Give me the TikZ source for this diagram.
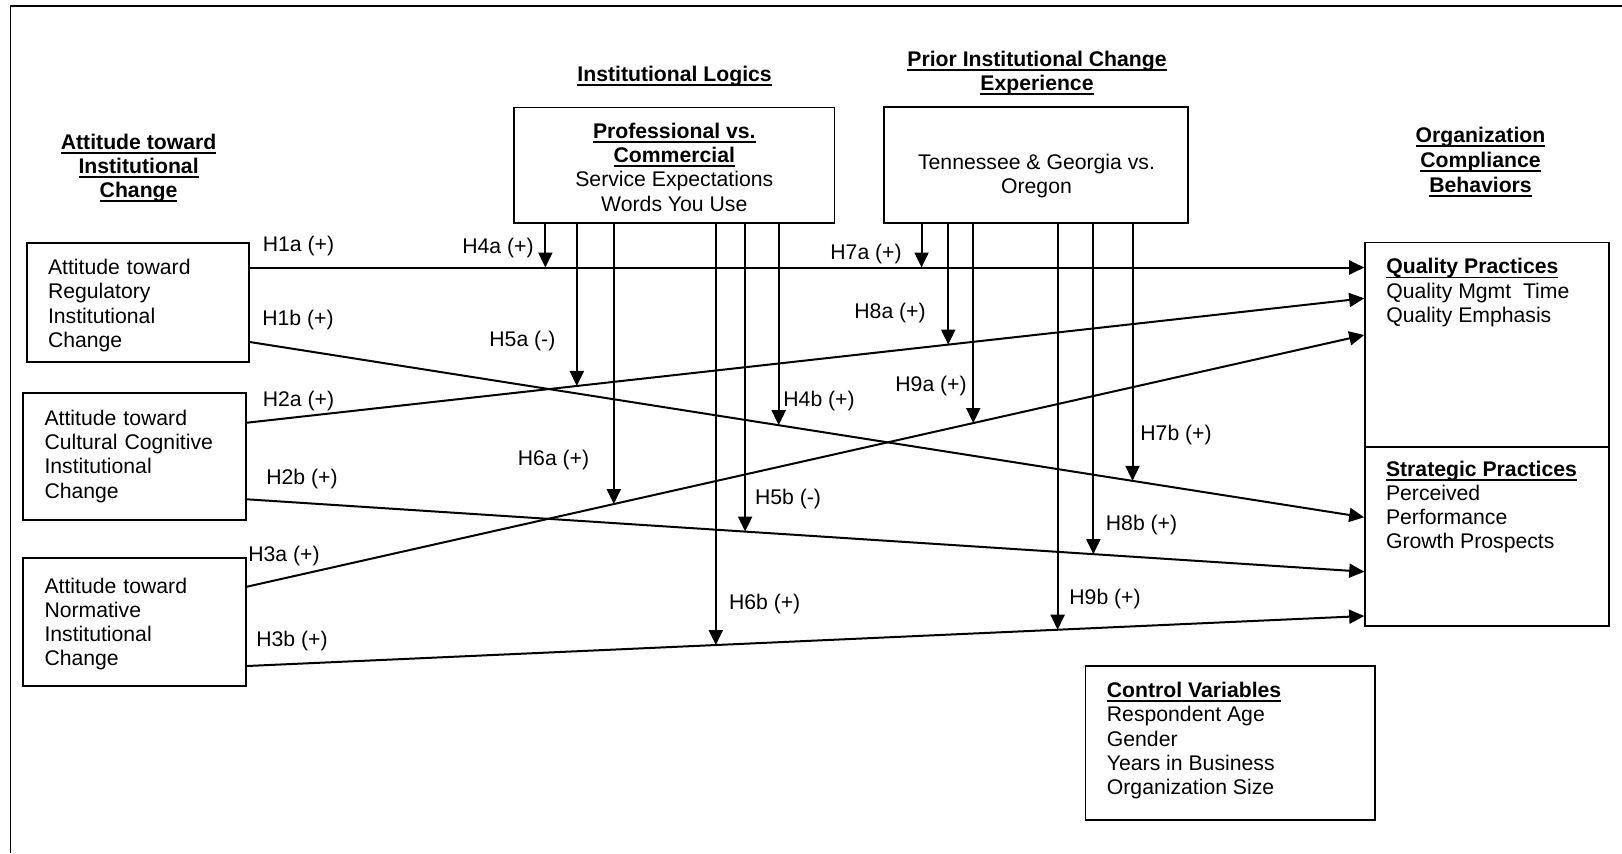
\documentclass[tikz,border=0pt]{standalone}
\usepackage{fontspec}
\setmainfont{Liberation Sans}
\usetikzlibrary{arrows.meta, positioning, calc}
\newcommand{\diagfont}{\fontsize{10.6pt}{12.1pt}\selectfont}
\newcommand{\uln}[1]{\leavevmode\setbox0\hbox{#1}\rlap{\rule[-2.2pt]{\wd0}{0.9pt}}\box0}
\tikzset{
  box/.style={draw, line width=0.8pt, inner ysep=0pt, inner xsep=10.5pt},
  varbox/.style={box, text width=90pt, align=left},
  title/.style={font=\diagfont\bfseries, align=center, inner sep=0pt, yshift=-1pt},
  txt/.style={font=\diagfont, align=left, inner sep=0pt},
  hyp/.style={font=\diagfont, inner sep=0pt, anchor=west, yshift=-1.5pt},
  link/.style={line width=1pt, -{Triangle[length=7.5pt,width=7pt]}},
  modarrow/.style={line width=1pt, -{Triangle[length=7.5pt,width=7pt]}}
}
\begin{document}
\begin{tikzpicture}[x=0.5pt, y=-0.5pt, font=\diagfont]
  \useasboundingbox (0,0) rectangle (1622,853);
  \draw[line width=0.9pt] (10.5,853) -- (10.5,5.7) -- (1622,5.7);

  % titles
  \node[title] (atttitle) at (138.6,166) {\uln{Attitude toward}\\\uln{Institutional}\\\uln{Change}};
  \node[title] (logtitle) at (674.6,74.3) {\uln{Institutional Logics}};
  \node[title] (priortitle) at (1037,71) {\uln{Prior Institutional Change}\\\uln{Experience}};
  \node[title, font=\fontsize{10.6pt}{12.5pt}\selectfont\bfseries] (orgtitle) at (1480.5,160)
    {\uln{Organization}\\\uln{Compliance}\\\uln{Behaviors}};

  % attitude boxes
  \node[varbox, minimum height=59.5pt] (reg) at (138,302.5)
    {\rule{0pt}{10.7pt}Attitude toward\\Regulatory\\Institutional\\Change};
  \node[varbox, inner xsep=10.8pt, minimum height=63.7pt] (cult) at (134.5,456.4)
    {Attitude toward\\Cultural Cognitive\\Institutional\\Change};
  \node[varbox, inner xsep=10.8pt, minimum height=64pt] (norm) at (134.5,622)
    {\rule{0pt}{9.7pt}Attitude toward\\Normative\\Institutional\\Change};

  % moderator boxes
  \node[box, minimum width=160.3pt, minimum height=57.7pt, align=center] (logic) at (674.3,165)
    {\rule{0pt}{9.8pt}\textbf{\uln{Professional vs.}}\\\textbf{\uln{Commercial}}\\Service Expectations\\Words You Use};
  \node[box, minimum width=152.2pt, minimum height=58pt] (prior) at (1035.9,164.7) {};
  \node[txt, align=center] (priortext) at (1036.5,176) {Tennessee \& Georgia vs.\\Oregon};

  % outcome boxes
  \node[box, minimum width=122pt, minimum height=102.2pt] (quality) at (1487,344.5) {};
  \node[box, minimum width=122pt, minimum height=89.5pt] (strategic) at (1487,536.2) {};
  \node[txt, anchor=north west] (qualtext) at (1386,258.2)
    {\textbf{\uln{Quality Practices}}\\Quality Mgmt\ \ Time\\Quality Emphasis};
  \node[txt, anchor=north west] (strattext) at (1385.6,460.5)
    {\textbf{\uln{Strategic Practices}}\\Perceived\\Performance\\Growth Prospects};

  % controls
  \node[box, minimum width=144.8pt, minimum height=77pt] (control) at (1230.2,743) {};
  \node[txt, anchor=north west] (contrtext) at (1106.5,682)
    {\textbf{\uln{Control Variables}}\\Respondent Age\\Gender\\Years in Business\\Organization Size};

  % main paths
  \coordinate (h1a-s) at (reg.east |- 0,267.5);
  \coordinate (h1a-e) at (quality.west |- 0,267.5);
  \coordinate (h1b-s) at (reg.east |- 0,342);
  \coordinate (h1b-e) at (strategic.west |- 0,517.3);
  \coordinate (h2a-s) at (cult.east |- 0,422.7);
  \coordinate (h2a-e) at (quality.west |- 0,298.3);
  \coordinate (h2b-s) at (cult.east |- 0,499.3);
  \coordinate (h2b-e) at (strategic.west |- 0,571.7);
  \coordinate (h3a-s) at (norm.east |- 0,586.7);
  \coordinate (h3a-e) at (quality.west |- 0,335);
  \coordinate (h3b-s) at (norm.east |- 0,666);
  \coordinate (h3b-e) at (strategic.west |- 0,616);
  \foreach \p in {h1a,h1b,h2a,h2b,h3a,h3b}
    \draw[link] (\p-s) -- (\p-e);

  % moderating paths
  \coordinate (m4a) at ($(h1a-s)!0.2652!(h1a-e)$);
  \coordinate (m7a) at ($(h1a-s)!0.6028!(h1a-e)$);
  \coordinate (m4b) at ($(h1b-s)!0.4746!(h1b-e)$);
  \coordinate (m7b) at ($(h1b-s)!0.7921!(h1b-e)$);
  \coordinate (m5a) at ($(h2a-s)!0.2953!(h2a-e)$);
  \coordinate (m8a) at ($(h2a-s)!0.6277!(h2a-e)$);
  \coordinate (m5b) at ($(h2b-s)!0.4459!(h2b-e)$);
  \coordinate (m8b) at ($(h2b-s)!0.7576!(h2b-e)$);
  \coordinate (m6a) at ($(h3a-s)!0.3284!(h3a-e)$);
  \coordinate (m9a) at ($(h3a-s)!0.6501!(h3a-e)$);
  \coordinate (m6b) at ($(h3b-s)!0.4197!(h3b-e)$);
  \coordinate (m9b) at ($(h3b-s)!0.7256!(h3b-e)$);
  \foreach \m in {m4a,m4b,m5a,m5b,m6a,m6b}
    \draw[modarrow] (logic.south -| \m) -- (\m);
  \foreach \m in {m7a,m7b,m8a,m8b,m9a,m9b}
    \draw[modarrow] (prior.south -| \m) -- (\m);

  % hypothesis labels
  \node[hyp] (l1a) at (262.5,243) {H1a (+)};
  \node[hyp] (l1b) at (262,317) {H1b (+)};
  \node[hyp] (l2a) at (262.5,398) {H2a (+)};
  \node[hyp] (l2b) at (266,476) {H2b (+)};
  \node[hyp] (l3a) at (248,553) {H3a (+)};
  \node[hyp] (l3b) at (256,638) {H3b (+)};
  \node[hyp] (l4a) at (462,245) {H4a (+)};
  \node[hyp] (l5a) at (489,338) {H5a (-)};
  \node[hyp] (l6a) at (517.5,457) {H6a (+)};
  \node[hyp] (l4b) at (783,398) {H4b (+)};
  \node[hyp] (l5b) at (754.6,496) {H5b (-)};
  \node[hyp] (l6b) at (728.6,601) {H6b (+)};
  \node[hyp] (l7a) at (830,251) {H7a (+)};
  \node[hyp] (l8a) at (854,310) {H8a (+)};
  \node[hyp] (l9a) at (895,383) {H9a (+)};
  \node[hyp] (l7b) at (1140,432) {H7b (+)};
  \node[hyp] (l8b) at (1105.5,522) {H8b (+)};
  \node[hyp] (l9b) at (1069,596) {H9b (+)};
\end{tikzpicture}
\end{document}
